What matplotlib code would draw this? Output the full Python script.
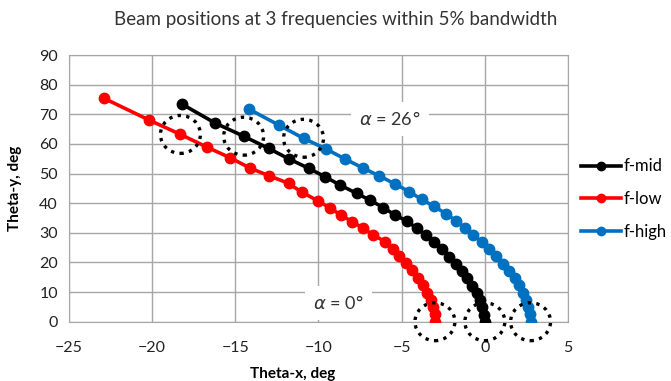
import numpy as np
import matplotlib.pyplot as plt
from matplotlib.patches import Ellipse

# beam positions (theta-x, theta-y), alpha = 26..0 deg
mid_x = [-18.2, -16.2, -14.5, -13.0, -11.8, -10.6, -9.6, -8.7, -7.7, -6.9, -6.1, -5.4, -4.7,
         -4.1, -3.55, -3.05, -2.6, -2.15, -1.75, -1.4, -1.05, -0.75, -0.5, -0.3, -0.15, -0.05, 0.0]
mid_y = [73.4, 67.0, 62.6, 58.5, 55.0, 51.8, 48.9, 46.1, 43.3, 41.0, 38.5, 36.0, 34.0,
         31.6, 29.2, 26.8, 24.4, 22.0, 19.6, 17.1, 14.6, 12.2, 9.8, 7.3, 4.9, 2.4, 0.0]

low_x = [-22.9, -20.2, -18.3, -16.7, -15.3, -14.1, -12.95, -11.8, -11.0, -10.0, -9.3, -8.65, -8.0,
         -7.3, -6.7, -6.0, -5.55, -5.15, -4.75, -4.35, -4.0, -3.7, -3.45, -3.25, -3.1, -3.02, -3.0]
low_y = [75.4, 68.1, 63.2, 58.9, 55.3, 51.8, 49.2, 46.7, 43.7, 40.7, 38.3, 36.0, 33.8,
         31.5, 29.3, 27.0, 24.6, 22.2, 19.8, 17.3, 14.8, 12.3, 9.8, 7.4, 4.9, 2.5, 0.0]

high_x = [-14.2, -12.4, -10.9, -9.55, -8.4, -7.3, -6.35, -5.4, -4.55,
          -3.8, -3.05, -2.35, -1.75, -1.2, -0.7, -0.2, 0.25, 0.7, 1.1, 1.45, 1.8, 2.05, 2.3,
          2.48, 2.6, 2.7, 2.75]
high_y = [71.8, 66.4, 61.9, 58.3, 54.9, 51.8, 49.2, 46.5, 43.9,
          41.3, 38.9, 36.5, 34.1, 31.7, 29.3, 27.0, 24.5, 22.1, 19.6, 17.2, 14.7, 12.3, 9.8,
          7.4, 4.9, 2.5, 0.0]

# highlighted beams (dotted circles)
mark_x = [-18.3, -14.5, -10.9, -3.0, 0.0, 2.75]
mark_y = [63.2, 62.6, 61.9, 0.0, 0.0, 0.0]

plt.rcParams['font.family'] = ['Lato', 'DejaVu Sans']

fig = plt.figure(figsize=(6.71, 3.81), dpi=100)
ax = fig.add_axes([0.1028, 0.1556, 0.7437, 0.7000])

gc = '#a6a6a6'
ax.plot(mid_x, mid_y, '-o', color='black', lw=2.6, ms=7.5, label='f-mid', zorder=4)
ax.plot(low_x, low_y, '-o', color='#ff0000', lw=2.6, ms=7.5, label='f-low', zorder=4)
ax.plot(high_x, high_y, '-o', color='#0070c0', lw=2.6, ms=7.5, label='f-high', zorder=4)

for x, y in zip(mark_x, mark_y):
    ax.add_patch(Ellipse((x, y), 2.4, 12.8, fill=False, ec='black', lw=2.4,
                         ls=(0, (1, 1.6)), zorder=5, clip_on=False))

ax.set_xlim(-25, 5)
ax.set_ylim(0, 90)
ax.set_xticks(np.arange(-25, 6, 5))
ax.set_yticks(np.arange(0, 91, 10))
ax.grid(True, color=gc, lw=1)
ax.set_axisbelow(True)
for s in ax.spines.values():
    s.set_color(gc)
ax.tick_params(length=0, labelsize=11.5, colors='#222222')
ax.tick_params(axis='x', pad=14)
ax.tick_params(axis='y', pad=8)

ax.text(-5.7, 68.5, r'$\alpha$ = 26$\degree$', fontsize=13, ha='center', va='center',
        color='#333333', zorder=3,
        bbox=dict(boxstyle='square,pad=0.45', fc='white', ec='none'))
ax.text(-8.8, 6.2, r'$\alpha$ = 0$\degree$', fontsize=13, ha='center', va='center',
        color='#333333', zorder=3,
        bbox=dict(boxstyle='square,pad=0.45', fc='white', ec='none'))

ax.set_xlabel('Theta-x, deg', fontsize=11, fontweight='bold')
ax.xaxis.set_label_coords(0.449, -0.17)
ax.set_ylabel('Theta-y, deg', fontsize=11, fontweight='bold')
ax.yaxis.set_label_coords(-0.095, 0.5)

fig.text(0.5, 0.95, 'Beam positions at 3 frequencies within 5% bandwidth',
         ha='center', va='center', fontsize=13.5, color='#333333')

ax.legend(loc='center left', bbox_to_anchor=(0.995, 0.46), frameon=False,
          fontsize=12, handlelength=2.4, handletextpad=0.2, labelspacing=1.0,
          markerscale=0.8)

fig.savefig('out.png', dpi=100)
